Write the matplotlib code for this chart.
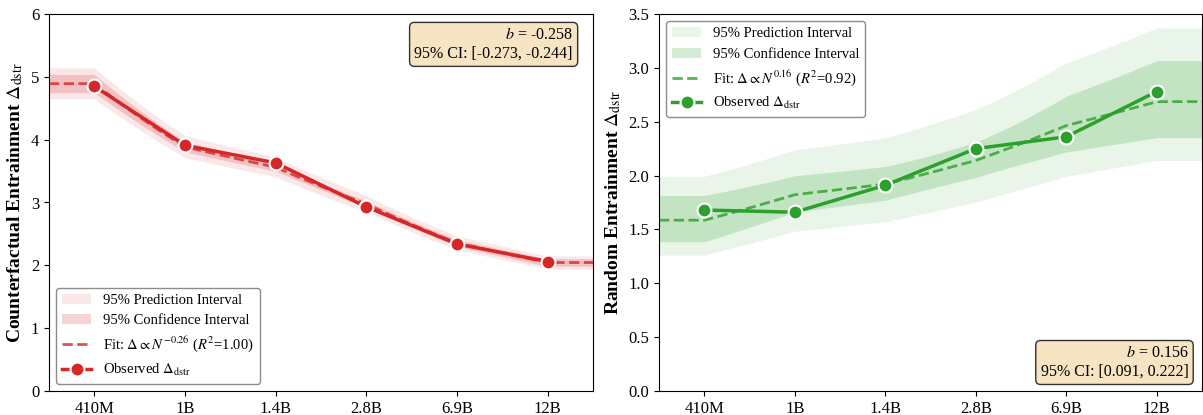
import numpy as np
import matplotlib
matplotlib.use('Agg')
import matplotlib.pyplot as plt

plt.rcParams['font.family'] = ['Liberation Serif', 'DejaVu Serif']
plt.rcParams['mathtext.fontset'] = 'stix'

# model sizes (categorical x axis) and parameter counts in billions
models = ['410M', '1B', '1.4B', '2.8B', '6.9B', '12B']
params_b = [0.41, 1.0, 1.4, 2.8, 6.9, 12.0]

# observed entrainment per model
cf_delta = [4.85, 3.91, 3.63, 2.93, 2.34, 2.06]
rnd_delta = [1.68, 1.66, 1.91, 2.25, 2.36, 2.78]

T_975_DF4 = 2.776445  # two-sided 95% t quantile, n-2 = 4 dof


def loglog_fit(x_idx, n_vals, y_vals, x_dense):
    lx = np.log(n_vals)
    ly = np.log(y_vals)
    n = len(lx)
    mx, my = lx.mean(), ly.mean()
    sxx = ((lx - mx) ** 2).sum()
    sxy = ((lx - mx) * (ly - my)).sum()
    syy = ((ly - my) ** 2).sum()
    b = sxy / sxx
    a = my - b * mx
    s = np.sqrt((syy - b * sxy) / (n - 2))
    se_b = s / np.sqrt(sxx)
    r2 = sxy ** 2 / (sxx * syy)

    ld = np.interp(x_dense, x_idx, lx)
    yhat = a + b * ld
    ci = T_975_DF4 * s * np.sqrt(1.0 / n + (ld - mx) ** 2 / sxx)
    pi = T_975_DF4 * s * np.sqrt(1.0 + 1.0 / n + (ld - mx) ** 2 / sxx)
    return dict(b=b, lo=b - T_975_DF4 * se_b, hi=b + T_975_DF4 * se_b, r2=r2,
                fit=np.exp(yhat),
                ci=(np.exp(yhat - ci), np.exp(yhat + ci)),
                pi=(np.exp(yhat - pi), np.exp(yhat + pi)))


def draw_panel(ax, y_vals, color, ylabel, ylim, yticks, yfmt, legend_loc, box_pos):
    x = np.arange(len(models))
    xd = np.linspace(-0.5, len(models) - 0.5, 400)
    r = loglog_fit(x, np.array(params_b), np.array(y_vals), xd)

    ax.fill_between(xd, *r['pi'], color=color, alpha=0.1, lw=0,
                    label='95% Prediction Interval')
    ax.fill_between(xd, *r['ci'], color=color, alpha=0.2, lw=0,
                    label='95% Confidence Interval')
    ax.plot(xd, r['fit'], '--', color=color, alpha=0.8, lw=2,
            label=r'Fit: $\Delta \propto N^{%.2f}$ ($R^2$=%.2f)' % (r['b'], r['r2']))
    ax.plot(x, y_vals, '-o', color=color, lw=2.5, ms=10, mec='white', mew=1.5,
            label=r'Observed $\Delta_{\mathrm{dstr}}$', zorder=5)

    ax.set_xlim(-0.5, len(models) - 0.5)
    ax.set_xticks(x)
    ax.set_xticklabels(models)
    ax.set_ylim(*ylim)
    ax.set_yticks(yticks)
    ax.set_yticklabels([yfmt % v for v in yticks])
    ax.tick_params(labelsize=12)
    ax.set_ylabel(ylabel, fontsize=14, fontweight='bold')

    ax.legend(loc=legend_loc, fontsize=10.5, framealpha=0.9, edgecolor='gray')

    txt = '$b$ = %.3f\n95%% CI: [%.3f, %.3f]' % (r['b'], r['lo'], r['hi'])
    bx, by, va = box_pos
    ax.text(bx, by, txt, transform=ax.transAxes, ha='right', va=va, fontsize=11.5,
            multialignment='right',
            bbox=dict(boxstyle='round', facecolor='wheat', alpha=0.8, edgecolor='black'))


fig = plt.figure(figsize=(12.03, 4.15), dpi=100)
ax1 = fig.add_axes([49 / 1203, 24 / 415, 544 / 1203, 377 / 415])
ax2 = fig.add_axes([659 / 1203, 24 / 415, 543 / 1203, 377 / 415])

draw_panel(ax1, cf_delta, '#d62728', r'Counterfactual Entrainment $\Delta_{\mathrm{dstr}}$',
           (0, 6), [0, 1, 2, 3, 4, 5, 6], '%d', 'lower left', (0.963, 0.965, 'top'))
draw_panel(ax2, rnd_delta, '#2ca02c', r'Random Entrainment $\Delta_{\mathrm{dstr}}$',
           (0, 3.5), [0, 0.5, 1, 1.5, 2, 2.5, 3, 3.5], '%.1f', 'upper left', (0.975, 0.03, 'bottom'))

fig.savefig('out.png', dpi=100)
